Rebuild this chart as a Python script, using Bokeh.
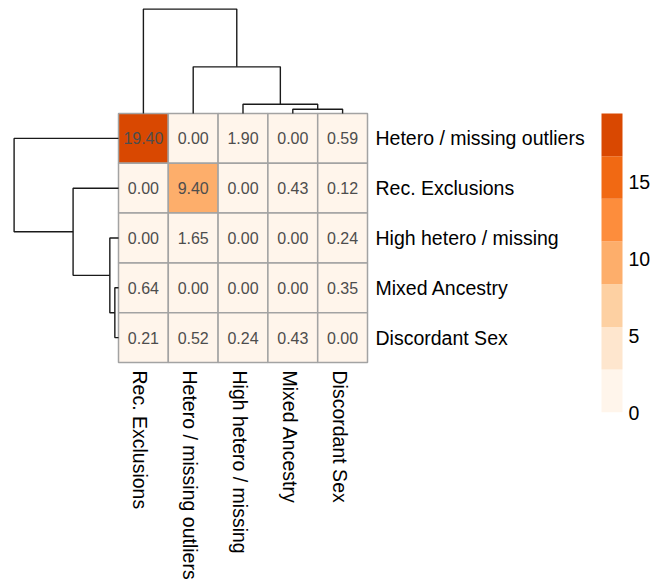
import math
from bokeh.plotting import figure
from bokeh.models import Range1d, ColumnDataSource, LinearColorMapper
from bokeh.transform import transform
from bokeh.core.properties import value
from bokeh.embed import file_html
from bokeh.resources import INLINE

# ---------------- data ----------------
row_labels = ["Hetero / missing outliers", "Rec. Exclusions", "High hetero / missing",
              "Mixed Ancestry", "Discordant Sex"]
col_labels = ["Rec. Exclusions", "Hetero / missing outliers", "High hetero / missing",
              "Mixed Ancestry", "Discordant Sex"]
row0 = [19.40, 0.00, 1.90, 0.00, 0.59]
row1 = [0.00, 9.40, 0.00, 0.43, 0.12]
row2 = [0.00, 1.65, 0.00, 0.00, 0.24]
row3 = [0.64, 0.00, 0.00, 0.00, 0.35]
row4 = [0.21, 0.52, 0.24, 0.43, 0.00]
matrix = [row0, row1, row2, row3, row4]

# dendrograms: (child_a, child_b, height relative to root); leaves 0..4, merged nodes 5..8
col_merges = [(3, 4, 0.041), (2, 5, 0.089), (1, 6, 0.447), (0, 7, 1.0)]
row_merges = [(3, 4, 0.035), (2, 5, 0.083), (1, 6, 0.435), (0, 7, 1.0)]

palette = ["#FFF5EB", "#FEE6CE", "#FDD0A2", "#FDAE6B", "#FD8D3C", "#F16913", "#D94801"]
color_low, color_high = 0.0, 19.4
legend_ticks = [0, 5, 10, 15]

# ---------------- layout constants ----------------
PX = 49.8                # pixels per cell
W, H = 653, 585
OX, OY = 118, 362        # grid left / bottom in pixels
tree_len = 104.4 / PX    # root height in cell units
font = "Liberation Sans"

p = figure(width=W, height=H, output_backend="svg", toolbar_location=None,
           x_range=Range1d((0 - OX) / PX, (W - OX) / PX),
           y_range=Range1d((OY - H) / PX, OY / PX),
           x_axis_location=None, y_axis_location=None, min_border=0)
p.outline_line_color = None
p.grid.visible = False
p.background_fill_color = "white"
p.border_fill_color = "white"

n = len(row_labels)
mapper = LinearColorMapper(palette=palette, low=color_low, high=color_high)

# heatmap cells
xs, ys, vals, txt = [], [], [], []
for j, r in enumerate(matrix):
    for i, v in enumerate(r):
        xs.append(i + 0.5)
        ys.append(n - 0.5 - j)
        vals.append(v)
        txt.append(f"{v:.2f}")
src = ColumnDataSource(dict(x=xs, y=ys, v=vals, t=txt))
p.rect("x", "y", width=1, height=1, source=src, fill_color=transform("v", mapper),
       line_color="#A3A3A3", line_width=1.5)
p.text("x", "y", text="t", source=src, text_align="center", text_baseline="middle",
       text_font=value(font), text_font_size=value("16px"), text_color="#4D4D4D")


def tree_lines(merges, leaf_pos, nleaves):
    pos = {k: leaf_pos[k] for k in range(nleaves)}
    hgt = {k: 0.0 for k in range(nleaves)}
    lines = []
    for k, (a, b, h) in enumerate(merges):
        lines.append(([pos[a], pos[a], pos[b], pos[b]], [hgt[a], h, h, hgt[b]]))
        pos[nleaves + k] = (pos[a] + pos[b]) / 2
        hgt[nleaves + k] = h
    return lines


# column dendrogram (top)
cl = tree_lines(col_merges, [i + 0.5 for i in range(n)], n)
p.multi_line([l[0] for l in cl], [[n + h * tree_len for h in l[1]] for l in cl],
             line_color="#1a1a1a", line_width=1.4)
# row dendrogram (left)
rl = tree_lines(row_merges, [n - 0.5 - j for j in range(n)], n)
p.multi_line([[-h * tree_len for h in l[1]] for l in rl], [l[0] for l in rl],
             line_color="#1a1a1a", line_width=1.4)

# row labels
p.text([(375 - OX) / PX] * n, [n - 0.5 - j for j in range(n)], text=row_labels,
       text_align="left", text_baseline="middle", text_font=value(font),
       text_font_size=value("19.5px"), text_color="black")
# column labels
p.text([i + 0.5 - 3 / PX for i in range(n)], [(OY - 370) / PX] * n, text=col_labels,
       angle=-math.pi / 2, text_align="left", text_baseline="middle",
       text_font=value(font), text_font_size=value("19.5px"), text_color="black")

# legend
leg_bottom, leg_top = -1.0, 5.0
leg_x0, leg_x1 = (601 - OX) / PX, (622 - OX) / PX
nb = len(palette)
edges = [color_low + (color_high - color_low) * k / nb for k in range(nb + 1)]
def leg_y(v):
    return leg_bottom + (v - color_low) / (color_high - color_low) * (leg_top - leg_bottom)
p.quad(left=leg_x0, right=leg_x1, bottom=[leg_y(e) for e in edges[:-1]],
       top=[leg_y(e) for e in edges[1:]], fill_color=palette, line_color=None)
p.text([(628 - OX) / PX] * len(legend_ticks), [leg_y(t) - 1 / PX for t in legend_ticks],
       text=[str(t) for t in legend_ticks], text_align="left", text_baseline="middle",
       text_font=value(font), text_font_size=value("19.5px"), text_color="black")

open("out.html", "w").write(file_html(p, INLINE))
